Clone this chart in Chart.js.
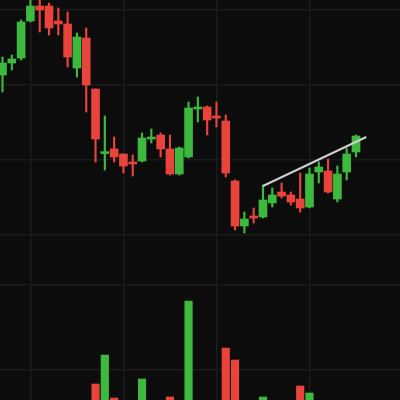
<!DOCTYPE html>
<html>
<head>
<meta charset="utf-8">
<script src="https://cdn.jsdelivr.net/npm/chart.js@4/dist/chart.umd.min.js"></script>
<style>
  html, body { margin: 0; padding: 0; background: #0c0c0c; }
  #wrap { width: 400px; height: 400px; }
</style>
</head>
<body>
<div id="wrap"><canvas id="c" width="400" height="400"></canvas></div>
<script>
// ---- Data ----
const opens  = [81.25, 84.25, 85.5, 94.75, 98.5, 98.5, 94.75, 94, 83, 90.5,
                77.75, 61.6, 62.75, 61.5, 59.5, 59.75, 65.25, 66.25, 62.75, 56.5,
                60.75, 72.75, 73.25, 71, 69.75, 54.75, 43.5, 46, 45.75, 49.25,
                52, 51.25, 50.25, 48.25, 57, 57.25, 50.25, 57, 62];
const highs  = [85.75, 86.25, 95, 100.25, 100, 99.25, 98, 97, 91.75, 93,
                77.75, 71, 65.75, 61.5, 61.25, 66.75, 67.75, 66.75, 66.25, 63.25,
                74.5, 75.75, 73.5, 74.5, 71.25, 55, 47, 48, 53.75, 53,
                54.25, 52, 56.75, 58, 59.5, 60.25, 58.5, 63, 66.25];
const lows   = [77, 82.5, 85, 94.5, 92, 91.25, 91.25, 83.25, 80.75, 72,
                59.5, 57.5, 59.5, 56.75, 56, 59.5, 64.25, 60.75, 56.25, 56.25,
                60.5, 69.5, 66.25, 68.25, 55.75, 42.5, 41.75, 44.25, 45.5, 48.25,
                50.5, 48.75, 47, 48, 54.25, 51.75, 49.5, 55, 60.75];
const closes = [84.25, 85.25, 94.5, 98.5, 97.5, 93, 94, 85.75, 90.75, 78.75,
                65.25, 62.1, 60.75, 58.5, 59, 65.5, 65.75, 62.75, 56.5, 63,
                73, 73.25, 70, 70.5, 56.75, 43.5, 45.25, 45.5, 50, 51.25,
                51, 49.5, 48, 56.5, 58.25, 52, 56.5, 61.5, 66];
const volumes = [7, 6, 8, 9, 7, 8, 6, 8, 7, 9,
                 14, 21.25, 10.5, 8, 7, 15.25, 6, 8, 10.75, 7,
                 34.75, 6, 8, 7, 23, 20, 9, 6, 10.75, 7,
                 6, 5, 13.5, 11.75, 8, 9, 8, 9, 9];
const trendX = [28, 39.1];
const trendY = [53.5, 65.75];
const xGridTicks = [3, 13, 23, 33];
const priceGridTicks = [97.5, 78.75, 60, 41.25];
const volumeGridTicks = [38.75, 17.5];

// ---- Build ----
const GREEN = '#3dba3d';
const RED = '#e8443b';
const isUp = i => closes[i] >= opens[i];
const colorFor = ctx => isUp(ctx.dataIndex) ? GREEN : RED;

const wickData = opens.map((_, i) => ({ x: i, y: [lows[i], highs[i]] }));
const bodyData = opens.map((_, i) => ({ x: i, y: [opens[i], closes[i]] }));
const volData  = volumes.map((v, i) => ({ x: i, y: v }));
const trendData = trendX.map((x, i) => ({ x: x, y: trendY[i] }));

const zero = s => { if (s.isHorizontal()) s.height = 0; else s.width = 0; };
const setTicks = arr => s => { s.ticks = arr.map(v => ({ value: v })); };
const GRID = { color: '#1b1b1b', lineWidth: 1.6, drawTicks: false, offset: false };

new Chart(document.getElementById('c'), {
  type: 'bar',
  data: {
    datasets: [
      { type: 'line', data: trendData, yAxisID: 'y', borderColor: '#cfcfcf',
        borderWidth: 2, pointRadius: 0, order: 0 },
      { data: bodyData, yAxisID: 'y', backgroundColor: colorFor,
        barThickness: 8, minBarLength: 2, grouped: false, order: 1 },
      { data: wickData, yAxisID: 'y', backgroundColor: colorFor,
        barThickness: 1.5, grouped: false, order: 2 },
      { data: volData, yAxisID: 'yv', backgroundColor: colorFor,
        barThickness: 7.5, grouped: false, order: 3 }
    ]
  },
  options: {
    responsive: false,
    animation: false,
    devicePixelRatio: 1,
    layout: { padding: 0 },
    plugins: { legend: { display: false }, tooltip: { enabled: false } },
    scales: {
      x: { type: 'linear', min: -0.269, max: 42.73, offset: false,
           ticks: { display: false }, grid: GRID, border: { display: false },
           afterBuildTicks: setTicks(xGridTicks), afterFit: zero },
      y: { type: 'linear', min: 0, max: 100,
           ticks: { display: false }, grid: GRID, border: { display: false },
           afterBuildTicks: setTicks(priceGridTicks), afterFit: zero },
      yv: { type: 'linear', min: 10, max: 110, position: 'left',
           ticks: { display: false }, grid: GRID, border: { display: false },
           afterBuildTicks: setTicks(volumeGridTicks), afterFit: zero }
    }
  },
  plugins: [{
    id: 'bg',
    beforeDraw: c => { const g = c.ctx; g.save(); g.fillStyle = '#0c0c0c';
      g.fillRect(0, 0, c.width, c.height); g.restore(); }
  }]
});
</script>
</body>
</html>
